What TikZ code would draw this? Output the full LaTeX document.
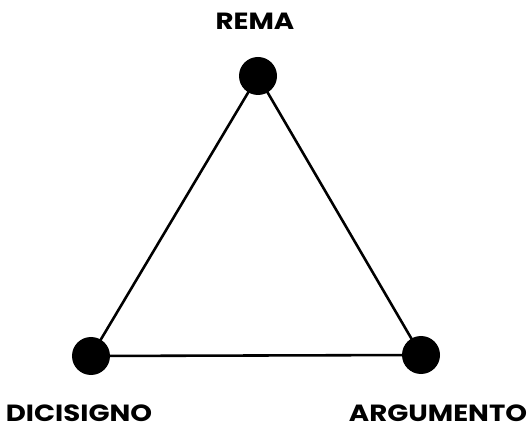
\documentclass[tikz,border=0pt]{standalone}
\usepackage{fontspec}
\setsansfont{Poppins}
\usepackage{graphicx}
\usepackage{tikz}
\usetikzlibrary{positioning}
\newcommand{\widelbl}[1]{\scalebox{1.18}[1]{#1}}

\begin{document}
\begin{tikzpicture}[
  x=0.03cm, y=-0.03cm,
  vtx/.style={circle, fill=black, inner sep=0pt, minimum size=1.14cm},
  lbl/.style={font=\sffamily\bfseries\fontsize{20}{24}\selectfont, inner sep=0pt},
]
  \useasboundingbox (0,0) rectangle (527,429);
  % vertices
  \node[vtx] (rema) at (258,76) {};
  \node[vtx] (dici) at (91,356) {};
  \node[vtx] (argu) at (421,355) {};
  % sides
  \draw[line width=2.2pt] (rema.center) -- (dici.center) -- (argu.center) -- cycle;
  % labels
  \node[lbl] (trema) at (255,21) {\widelbl{REMA}};
  \node[lbl] (tdici) at (79,413) {\widelbl{DICISIGNO}};
  \node[lbl] (targu) at (438,413) {\widelbl{ARGUMENTO}};
\end{tikzpicture}
\end{document}
